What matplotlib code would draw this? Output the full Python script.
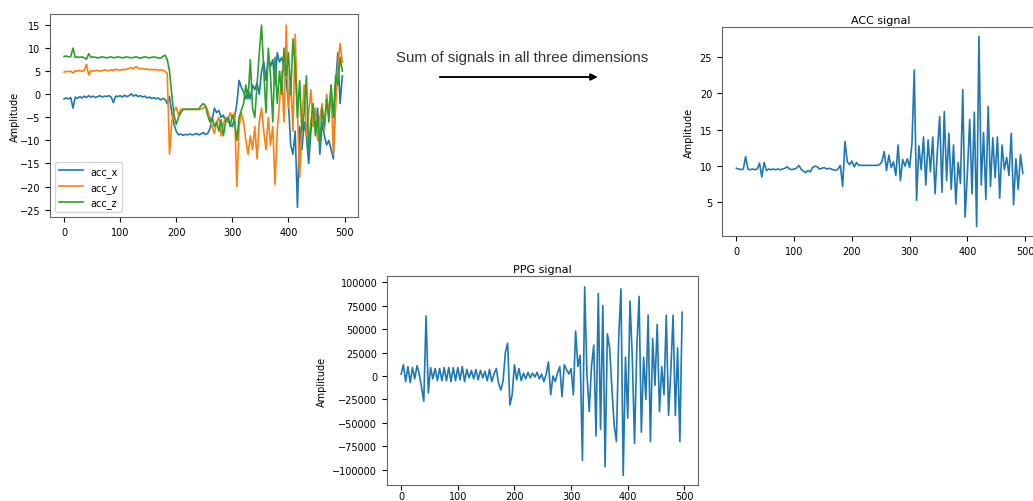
import numpy as np
import matplotlib.pyplot as plt

# sample index shared by every trace (one reading every 4 samples)
samples = np.arange(0, 500, 4)

acc_x = [-1.0, -0.8, -1.0, -0.7, -3.0, -0.6, -0.9, -0.5, -0.8, -0.4,
         -0.7, -0.3, -0.6, -0.4, -0.7, -0.5, -0.3, -0.6, -0.4, -0.5,
         -0.3, -0.6, -1.8, -0.4, -0.5, -0.3, -0.6, -0.2, -0.5, -0.3,
         0.1, -0.4, -0.1, -0.5, -0.3, -0.6, -0.4, -0.8, -0.6, -0.9,
         -0.7, -1.0, -0.8, -1.2, -0.9, -1.1, -2.0, -0.5, -4.0, -6.5,
         -8.0, -8.8, -8.6, -8.9, -8.7, -8.8, -8.6, -8.8, -8.7, -8.5,
         -8.8, -8.6, -8.3, -8.7, -8.5, -7.5, -5.5, -3.0, -4.0, -3.5,
         -5.0, -4.5, -6.0, -5.0, -6.5, -7.0, -5.0, -2.0, 3.0, 1.5,
         0.5, -1.0, 1.0, -1.0, 2.0, 1.0, 2.5, 0.0, 5.0, 7.0,
         3.0, 8.0, 6.0, 7.5, 2.0, 9.0, 7.0, 8.0, 6.0, 3.0,
         -2.0, -11.0, -13.0, -8.0, -24.5, -7.0, -12.0, -6.0, -9.0, -15.0,
         -8.0, -4.0, -7.0, -3.0, -13.0, -6.0, -9.0, -11.0, -10.0, -12.0,
         -14.0, 2.0, 9.0, -2.0, 4.0]

acc_y = [4.8, 5.0, 4.9, 5.0, 4.6, 5.1, 5.0, 5.2, 5.0, 5.1,
         6.5, 4.2, 5.2, 5.0, 5.1, 5.2, 5.0, 5.1, 5.3, 5.2,
         5.1, 5.3, 5.2, 5.4, 5.3, 5.2, 5.4, 5.3, 5.5, 5.6,
         5.8, 5.5, 6.0, 5.7, 5.5, 5.6, 5.4, 5.5, 5.3, 5.4,
         5.3, 5.4, 5.2, 5.3, 5.2, 5.0, 4.5, -13.0, -6.0, -3.5,
         -2.8, -4.5, -3.3, -3.2, -3.3, -3.2, -3.3, -3.2, -3.3, -3.2,
         -3.3, -3.2, -3.0, -2.5, -3.5, -5.0, -7.0, -8.5, -6.0, -5.0,
         -9.0, -6.5, -5.0, -6.0, -4.0, -5.0, -4.0, -20.0, -7.0, -4.0,
         -6.0, -10.0, -13.0, -9.0, -12.0, -7.0, -14.0, -6.0, -3.0, -8.0,
         -12.0, -5.0, -11.0, -7.0, -19.5, -8.0, -2.0, 5.0, -6.0, 15.0,
         -3.0, 3.0, -8.0, 13.0, -4.0, -18.0, -6.0, 2.0, -9.0, -4.0,
         1.0, -7.0, -3.0, -10.0, -5.0, -2.0, -8.0, 0.0, -4.0, 2.0,
         -13.0, -3.0, 6.0, 11.0, 7.0]

acc_z = [8.2, 8.3, 8.1, 8.2, 10.0, 8.0, 8.1, 8.0, 8.1, 7.9,
         7.6, 8.8, 8.0, 8.1, 8.0, 7.9, 8.0, 8.1, 8.0, 7.9,
         8.0, 8.1, 7.9, 8.0, 8.1, 8.0, 7.9, 8.0, 8.1, 8.0,
         7.9, 8.0, 8.1, 8.0, 7.8, 8.0, 8.1, 8.0, 7.9, 8.0,
         8.1, 8.0, 7.9, 7.8, 8.2, 8.5, 7.5, 5.0, 0.0, -4.5,
         -6.5, -5.0, -4.0, -3.3, -3.2, -3.3, -3.2, -3.3, -3.2, -3.3,
         -3.2, -2.5, -2.0, -2.5, -4.5, -6.0, -5.0, -7.0, -6.0, -8.0,
         -5.5, -9.0, -6.0, -5.0, -7.0, -4.5, -6.0, -10.0, -5.0, -3.5,
         -2.0, 2.0, -1.0, 7.5, -3.0, -5.0, 2.0, 9.0, 15.0, 5.0,
         -4.0, 10.0, 4.0, -6.0, 8.0, -2.0, 5.0, 0.0, 10.0, 4.0,
         9.0, 0.0, 12.0, 6.0, -5.0, 3.0, -8.0, -4.0, 4.0, -12.0,
         -6.0, -2.0, -9.0, -5.0, -11.0, -3.0, -7.0, -1.0, -6.0, 2.0,
         -5.0, 4.0, 2.0, 8.0, 5.0]

acc_sum = [9.7, 9.6, 9.5, 9.6, 11.3, 9.6, 9.5, 9.6, 9.5, 9.6,
           10.4, 8.5, 10.5, 9.4, 9.6, 9.5, 9.6, 9.5, 9.6, 9.5,
           9.6, 9.7, 9.9, 9.6, 9.5, 9.6, 9.7, 10.1, 9.6, 9.3,
           9.1, 9.4, 9.2, 9.8, 10.0, 9.9, 9.6, 9.7, 9.8, 9.6,
           9.7, 9.6, 9.5, 9.4, 9.6, 10.1, 7.2, 13.4, 10.6, 10.2,
           10.7, 9.9, 10.5, 10.1, 10.1, 10.1, 10.1, 10.1, 10.1, 10.1,
           10.1, 10.1, 10.2, 10.6, 12.0, 9.4, 11.5, 9.8, 10.6, 8.7,
           12.9, 8.0, 10.9, 10.0, 11.0, 9.8, 13.1, 23.2, 5.3, 12.8,
           9.5, 14.0, 7.4, 13.6, 9.2, 14.0, 6.2, 12.0, 16.8, 6.4,
           17.5, 8.0, 14.5, 6.8, 12.9, 4.8, 10.5, 7.6, 20.5, 3.0,
           9.0, 16.4, 6.2, 17.4, 1.7, 27.8, 7.4, 14.6, 5.4, 18.2,
           7.2, 13.9, 8.4, 14.0, 5.6, 12.9, 9.5, 11.2, 8.7, 14.5,
           4.7, 11.0, 6.8, 11.6, 9.0]

ppg = [2000, 12000, -6000, 10000, -7000, 9000, -3000, 11000, 2000, -12000,
       -27000, 64000, -18000, 9000, -3000, 8000, -5000, 8000, -5000, 9000,
       -5000, 9000, -6000, 9000, -5000, 9000, -4000, 10000, -6000, 7000,
       -2000, 6000, -3000, 7000, -4000, 6000, -2000, 5000, -5000, 7000,
       -6000, 2000, 8000, -8000, -15000, -5000, 25000, 35000, -31000, -20000,
       12000, -4000, 8000, -5000, 3000, -3000, 4000, -2000, 3000, -1000,
       4000, -3000, 2000, -6000, 2000, 15000, -20000, 0, -6000, 3000,
       10000, -22000, 12000, 7000, 2000, 8000, -20000, 48000, 10000, 22000,
       -90000, 95000, 2000, -38000, 10000, 33000, -64000, 88000, -57000, 75000,
       -97000, 45000, 30000, -13000, -52000, -70000, 40000, 93000, -106000, 20000,
       -45000, 80000, 20000, -72000, 30000, 85000, -60000, 20000, -25000, 65000,
       -70000, 40000, -10000, 55000, -38000, 10000, -20000, 65000, -42000, 5000,
       65000, -42000, 30000, -70000, 68000]

acc_labels = ['acc_x', 'acc_y', 'acc_z']

fig = plt.figure(figsize=(10.33, 5.02), dpi=100)
fs = 7

ax1 = fig.add_axes([0.0484, 0.5657, 0.2982, 0.4044])
for vals, lab in zip([acc_x, acc_y, acc_z], acc_labels):
    ax1.plot(samples, vals, label=lab, lw=1.2)
ax1.set_xlim(-25, 524)
ax1.set_ylim(-26.6, 17.4)
ax1.set_yticks([15, 10, 5, 0, -5, -10, -15, -20, -25])
ax1.set_xticks([0, 100, 200, 300, 400, 500])
ax1.set_ylabel('Amplitude', fontsize=fs, labelpad=0)
ax1.tick_params(labelsize=fs)
ax1.legend(loc='lower left', fontsize=fs, handlelength=2.5)

ax2 = fig.add_axes([0.6989, 0.5279, 0.3069, 0.4163])
ax2.plot(samples, acc_sum, lw=1.2)
ax2.set_xlim(-25, 524)
ax2.set_ylim(0.4, 29.1)
ax2.set_yticks([5, 10, 15, 20, 25])
ax2.set_xticks([0, 100, 200, 300, 400, 500])
ax2.set_title('ACC signal', fontsize=8, pad=3)
ax2.set_ylabel('Amplitude', fontsize=fs)
ax2.tick_params(labelsize=fs)

ax3 = fig.add_axes([0.3746, 0.0319, 0.3011, 0.4163])
ax3.plot(samples, ppg, lw=1.2)
ax3.set_xlim(-25, 524)
ax3.set_ylim(-116300, 106700)
ax3.set_yticks([100000, 75000, 50000, 25000, 0, -25000, -50000, -75000, -100000])
ax3.set_xticks([0, 100, 200, 300, 400, 500])
ax3.set_title('PPG signal', fontsize=8, pad=3)
ax3.set_ylabel('Amplitude', fontsize=fs)
ax3.tick_params(labelsize=fs)
ax3.tick_params(axis='x', pad=1)

for ax in (ax1, ax2, ax3):
    for sp in ax.spines.values():
        sp.set_edgecolor('#666666')

fig.text(0.5053, 0.8845, 'Sum of signals in all three dimensions',
         ha='center', va='center', fontsize=10.8, color='#333333',
         family='Liberation Sans')
fig.add_artist(plt.annotate('', xy=(0.581, 0.8446), xytext=(0.423, 0.8446),
                            xycoords='figure fraction',
                            arrowprops=dict(arrowstyle='-|>', color='black', lw=1.1)))

fig.savefig('out.png', dpi=100)
